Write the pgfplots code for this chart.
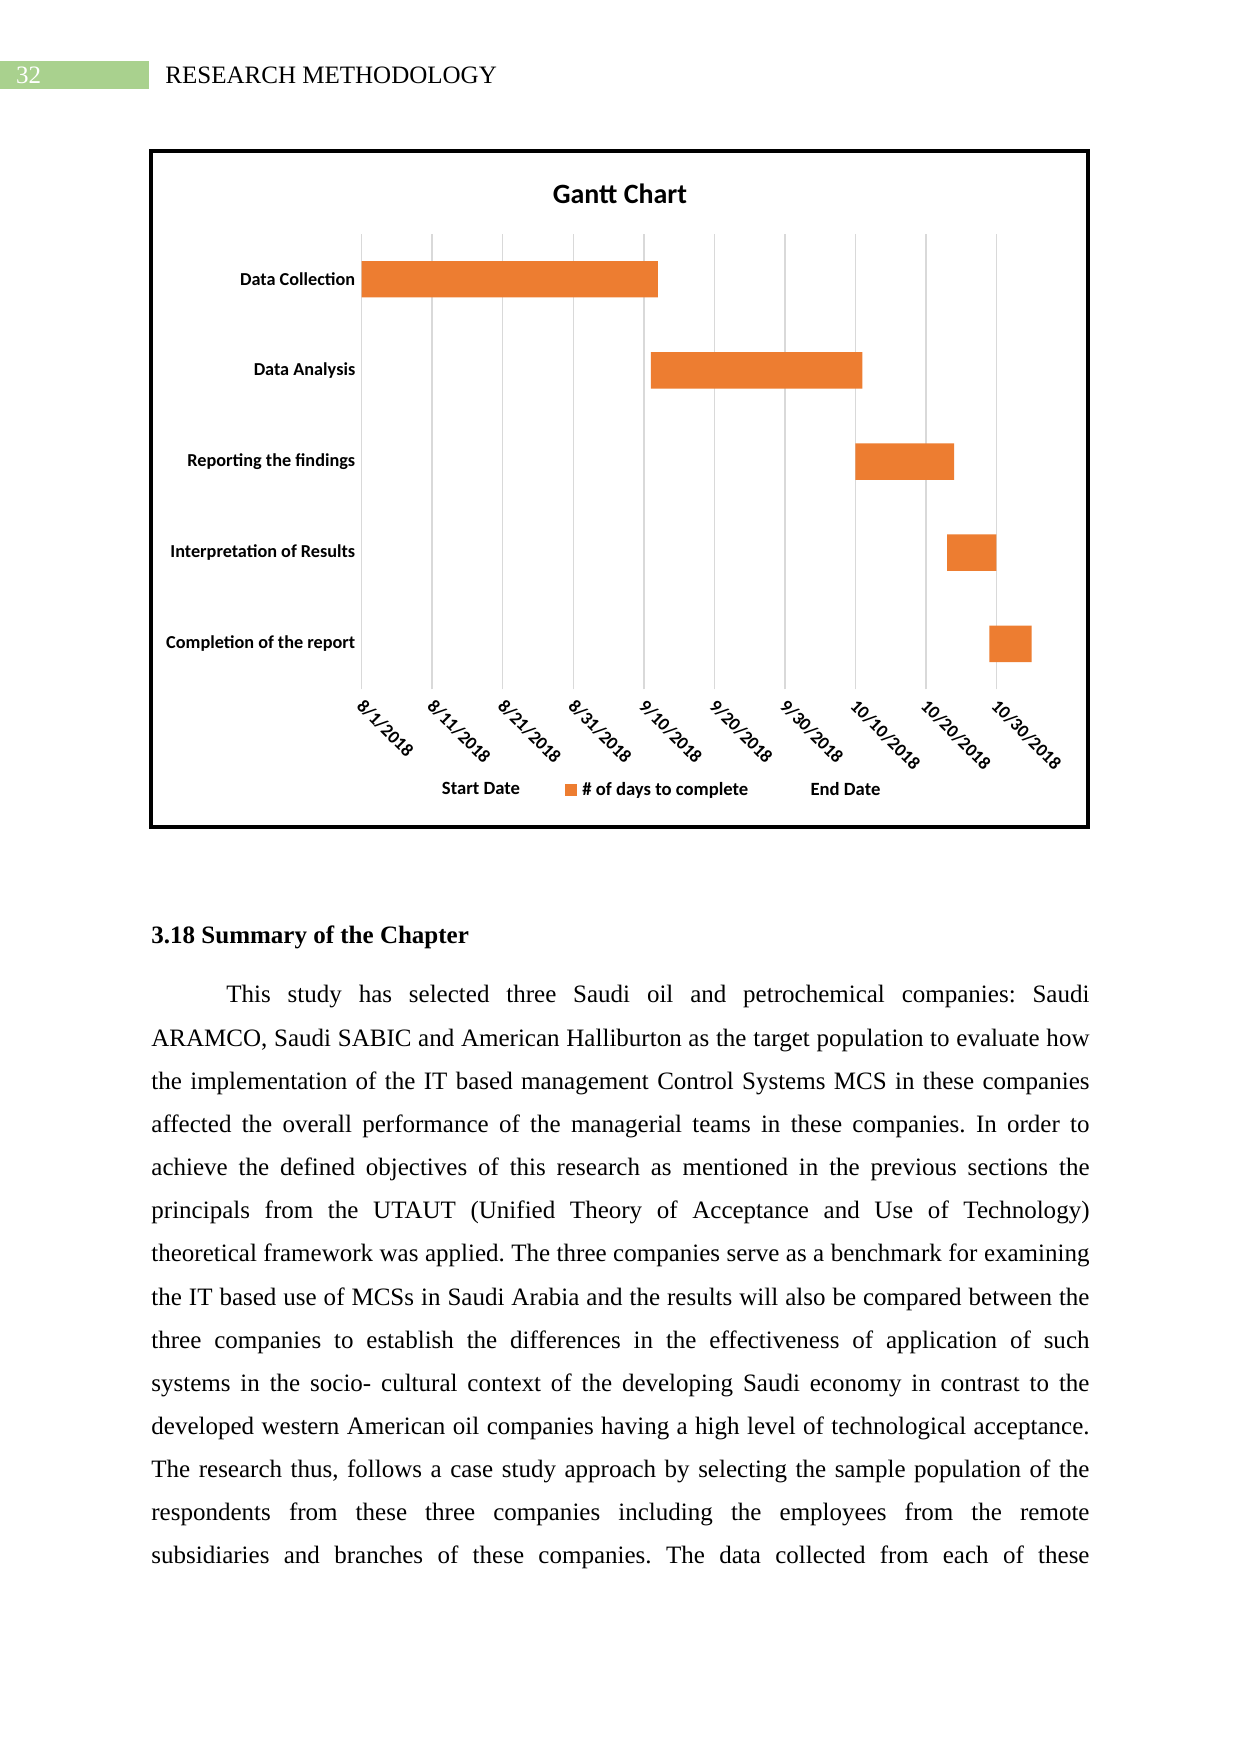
\documentclass[border=0pt]{standalone}
\usepackage{fontspec}
\setmainfont{Liberation Serif}
\newfontfamily\chartfont{Carlito}
\usepackage{pgfplots}
\pgfplotsset{compat=1.18}
\definecolor{barorange}{HTML}{ED7D31}
\definecolor{headgreen}{HTML}{A9D18E}
\definecolor{gridgray}{HTML}{D9D9D9}
\newcommand{\chartlbl}{\chartfont\bfseries\fontsize{8.75}{10.5}\selectfont}
\newcommand{\jline}[3]{\node[anchor=base west,inner sep=0pt] at (#1) {\makebox[#2][s]{#3}};}

\begin{document}
\frenchspacing
\begin{tikzpicture}[x=0.4797pt,y=0.4797pt,font=\fontsize{12}{14.4}\selectfont]
\fill[white] (0,0) rectangle (1241,1754);

% page header
\fill[headgreen] (0,1693.3) rectangle (149.4,1664.7);
\node[anchor=base west,inner sep=0pt,text=white] at (15.8,1670.7) {32};
\node[anchor=base west,inner sep=0pt] at (165,1670.7) {RESEARCH METHODOLOGY};

% chart frame
\draw[line width=1.9pt] (151.3,1602.5) rectangle (1088,927.3);

\begin{axis}[
  at={(173.51pt,510.69pt)}, anchor=south west,
  scale only axis, width=321.4pt, height=218.6pt,
  xbar stacked, bar width=0.4,
  xmin=0, xmax=95, ymin=-0.5, ymax=4.5,
  xtick={0,10,...,90},
  xticklabels={8/1/2018,8/11/2018,8/21/2018,8/31/2018,9/10/2018,9/20/2018,9/30/2018,10/10/2018,10/20/2018,10/30/2018},
  ytick={0,...,4},
  yticklabels={Completion of the report,Interpretation of Results,Reporting the findings,Data Analysis,Data Collection},
  xmajorgrids, grid style={gridgray, line width=0.7pt},
  axis line style={draw=none}, major tick length=0pt,
  ticklabel style={font=\chartlbl},
  xticklabel style={xshift=1.5pt, yshift=-4pt, rotate=-45, anchor=north west, inner sep=0pt},
  yticklabel style={anchor=east, inner sep=0pt, xshift=-2.9pt},
  title={Gantt Chart},
  title style={at={(0.3855,1.060)}, anchor=center, font=\chartfont\bfseries\fontsize{13.4}{16}\selectfont},
  legend columns=3,
  legend image code/.code={\path[#1] (0pt,-2.8pt) rectangle (5.6pt,2.8pt);},
  legend style={at={(0.0934,-0.221)}, anchor=west, draw=none, fill=none,
    inner sep=0pt, nodes={inner sep=0pt, anchor=west},
    font=\chartfont\bfseries\fontsize{8.95}{10.7}\selectfont,
    /tikz/every odd column/.append style={column sep=2.7pt},
    /tikz/every even column/.append style={column sep=21.6pt}},
]
% start day (days after 8/1/2018), drawn invisible
\addplot[draw=none, fill=none] coordinates {(0,4) (41,3) (70,2) (83,1) (89,0)};
\addlegendentry{Start Date}
% number of days to complete
\addplot[draw=none, fill=barorange] coordinates {(42,4) (30,3) (14,2) (7,1) (6,0)};
\addlegendentry{\# of days to complete}
\addlegendimage{draw=none, fill=none}
\addlegendentry{End Date}
\end{axis}

% section text
\node[anchor=base west,inner sep=0pt,font=\fontsize{12}{14.4}\selectfont\bfseries] at (151,810.7) {3.18 Summary of the Chapter};
\jline{226,751}{414pt}{This study has selected three Saudi oil and petrochemical companies: Saudi}
\jline{151,707.85}{450pt}{ARAMCO, Saudi SABIC and American Halliburton as the target population to evaluate how}
\jline{151,664.7}{450pt}{the implementation of the IT based management Control Systems MCS in these companies}
\jline{151,621.55}{450pt}{affected the overall performance of the managerial teams in these companies. In order to}
\jline{151,578.4}{450pt}{achieve the defined objectives of this research as mentioned in the previous sections the}
\jline{151,535.25}{450pt}{principals from the UTAUT (Unified Theory of Acceptance and Use of Technology)}
\jline{151,492.1}{450pt}{theoretical framework was applied. The three companies serve as a benchmark for examining}
\jline{151,448.95}{450pt}{the IT based use of MCSs in Saudi Arabia and the results will also be compared between the}
\jline{151,405.8}{450pt}{three companies to establish the differences in the effectiveness of application of such}
\jline{151,362.65}{450pt}{systems in the socio- cultural context of the developing Saudi economy in contrast to the}
\jline{151,319.5}{450pt}{developed western American oil companies having a high level of technological acceptance.}
\jline{151,276.35}{450pt}{The research thus, follows a case study approach by selecting the sample population of the}
\jline{151,233.2}{450pt}{respondents from these three companies including the employees from the remote}
\jline{151,190.05}{450pt}{subsidiaries and branches of these companies. The data collected from each of these}

\path[use as bounding box] (0,0) rectangle (1241,1754);
\end{tikzpicture}
\end{document}
